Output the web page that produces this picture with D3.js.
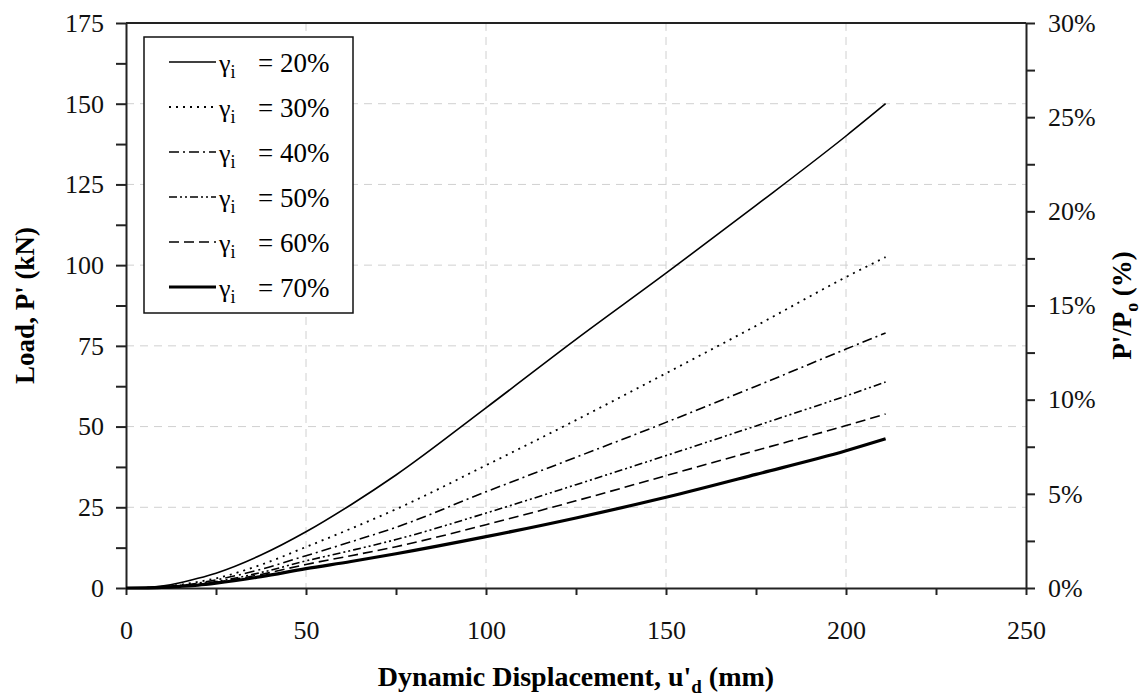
<!DOCTYPE html>
<html>
<head>
<meta charset="utf-8">
<script src="https://cdn.jsdelivr.net/npm/d3@7"></script>
<style>
  body { margin: 0; background: #fff; }
  .grid line { stroke: #d0d0d0; stroke-dasharray: 8 6; stroke-width: 1; }
  .axis path, .axis line { stroke: #222; stroke-width: 2; }
  .axis text { font-family: "Liberation Serif", serif; font-size: 26px; fill: #111; }
</style>
</head>
<body>
<div id="chart"></div>
<script>
// displacement u'd (mm)
const disp = [0, 5, 10, 15, 20, 25, 37.5, 50, 62.5, 75, 100, 125, 150, 175, 200, 211];

// load P' (kN) for each initial strain
const gamma20 = [0, 0.1, 0.6, 1.6, 3.0, 4.6, 10.2, 17.4, 25.8, 35.0, 55.8, 77, 97.5, 118.5, 140, 150];
const gamma30 = [0, 0.05, 0.4, 1.0, 1.9, 3.0, 7.2, 12.7, 18.4, 24.4, 38, 52, 66.5, 81.2, 96.3, 102.5];
const gamma40 = [0, 0.04, 0.3, 0.8, 1.5, 2.5, 5.8, 10.0, 14.3, 18.8, 29.8, 40.5, 51.3, 62.5, 74, 79];
const gamma50 = [0, 0.03, 0.25, 0.7, 1.3, 2.0, 4.8, 8.4, 11.6, 15.0, 23.2, 32, 41, 50.2, 59.5, 63.8];
const gamma60 = [0, 0.03, 0.2, 0.6, 1.1, 1.8, 4.2, 7.3, 10.0, 12.8, 19.6, 27, 34.8, 42.6, 50.3, 53.9];
const gamma70 = [0, 0.02, 0.18, 0.5, 0.9, 1.5, 3.5, 6.0, 8.2, 10.6, 15.9, 21.7, 28.1, 35.2, 42.5, 46.2];

const seriesLabels = ['20%', '30%', '40%', '50%', '60%', '70%'];
const seriesValues = [gamma20, gamma30, gamma40, gamma50, gamma60, gamma70];

const xTicks = [0, 25, 50, 75, 100, 125, 150, 175, 200, 225, 250];
const xLabels = [0, 50, 100, 150, 200, 250];
const yTicks = d3.range(0, 175.1, 12.5);
const yLabels = [0, 25, 50, 75, 100, 125, 150, 175];
const rTicks = d3.range(0, 0.3001, 0.025);
const rLabels = [0, 0.05, 0.10, 0.15, 0.20, 0.25, 0.30];

const styles = [
  { width: 1.6, dash: null },
  { width: 1.8, dash: '2 5' },
  { width: 1.6, dash: '10 4 2 4' },
  { width: 1.6, dash: '8 3 2 3 2 3' },
  { width: 1.6, dash: '10 5' },
  { width: 3.2, dash: null },
];

const FONT = '"Liberation Serif", "Times New Roman", serif';
const W = 1145, H = 698;
const m = { left: 126, right: 119, top: 23, bottom: 110 };
const iw = W - m.left - m.right, ih = H - m.top - m.bottom;

const svg = d3.select('#chart').append('svg').attr('width', W).attr('height', H)
  .attr('font-family', FONT);
const g = svg.append('g').attr('transform', `translate(${m.left},${m.top})`);

const x = d3.scaleLinear().domain([0, 250]).range([0, iw]);
const y = d3.scaleLinear().domain([0, 175]).range([ih, 0]);
const yR = d3.scaleLinear().domain([0, 0.30]).range([ih, 0]);

// grid
g.append('g').attr('class', 'grid')
  .selectAll('line').data(yLabels.filter(d => d > 0 && d < 175)).join('line')
  .attr('x1', 0).attr('x2', iw).attr('y1', d => y(d)).attr('y2', d => y(d));
g.append('g').attr('class', 'grid')
  .selectAll('line').data(xLabels.filter(d => d > 0 && d < 250)).join('line')
  .attr('y1', 0).attr('y2', ih).attr('x1', d => x(d)).attr('x2', d => x(d));

// frame top
g.append('line').attr('x1', 0).attr('x2', iw).attr('y1', 0).attr('y2', 0)
  .attr('stroke', '#222').attr('stroke-width', 2);

g.append('g').attr('class', 'axis')
  .attr('transform', `translate(0,${ih})`)
  .call(d3.axisBottom(x).tickValues(xTicks).tickSize(7).tickPadding(26).tickSizeOuter(0)
    .tickFormat(d => xLabels.includes(d) ? d : ''));

g.append('g').attr('class', 'axis')
  .call(d3.axisLeft(y).tickValues(yTicks).tickSize(10).tickPadding(12).tickSizeOuter(0)
    .tickFormat(d => yLabels.includes(d) ? d : ''));

g.append('g').attr('class', 'axis')
  .attr('transform', `translate(${iw},0)`)
  .call(d3.axisRight(yR).tickValues(rTicks).tickSize(9).tickPadding(13).tickSizeOuter(0)
    .tickFormat(d => rLabels.some(v => Math.abs(v - d) < 1e-6) ? d3.format('.0%')(d) : ''));

// curves
const line = d3.line().x((d, i) => x(disp[i])).y(d => y(d)).curve(d3.curveMonotoneX);
g.selectAll('.curve').data(seriesValues).join('path')
  .attr('class', 'curve')
  .attr('d', line)
  .attr('fill', 'none')
  .attr('stroke', '#000')
  .attr('stroke-width', (d, i) => styles[i].width)
  .attr('stroke-dasharray', (d, i) => styles[i].dash);

// legend
const lg = svg.append('g');
lg.append('rect').attr('x', 144).attr('y', 37).attr('width', 209).attr('height', 276)
  .attr('fill', '#fff').attr('stroke', '#111').attr('stroke-width', 1.5);
const rows = lg.selectAll('.row').data(seriesLabels).join('g')
  .attr('transform', (d, i) => `translate(0,${62 + i * 45})`);
rows.append('line').attr('x1', 169).attr('x2', 216).attr('y1', 0).attr('y2', 0)
  .attr('stroke', '#000')
  .attr('stroke-width', (d, i) => styles[i].width)
  .attr('stroke-dasharray', (d, i) => styles[i].dash);
const t = rows.append('text').attr('x', 219).attr('y', 10).attr('font-size', 26);
t.append('tspan').text('γ');
t.append('tspan').attr('font-size', 18).attr('dy', 6).text('i');
rows.append('text').attr('x', 258).attr('y', 10).attr('font-size', 27).text(d => '= ' + d);

// axis titles
svg.append('text').attr('x', m.left + iw / 2).attr('y', 686)
  .attr('text-anchor', 'middle').attr('font-size', 28).attr('font-weight', 'bold')
  .call(s => {
    s.append('tspan').text("Dynamic Displacement, u'");
    s.append('tspan').attr('font-size', 19).attr('dy', 7).text('d');
    s.append('tspan').attr('dy', -7).text(' (mm)');
  });

svg.append('text').attr('transform', `translate(34,${m.top + ih / 2}) rotate(-90)`)
  .attr('text-anchor', 'middle').attr('font-size', 27).attr('font-weight', 'bold')
  .text("Load, P' (kN)");

svg.append('text').attr('transform', `translate(1131,${m.top + ih / 2}) rotate(-90)`)
  .attr('text-anchor', 'middle').attr('font-size', 27).attr('font-weight', 'bold')
  .call(s => {
    s.append('tspan').text("P'/P");
    s.append('tspan').attr('font-size', 18).attr('dy', 7).text('o');
    s.append('tspan').attr('dy', -7).text(' (%)');
  });
</script>
</body>
</html>
